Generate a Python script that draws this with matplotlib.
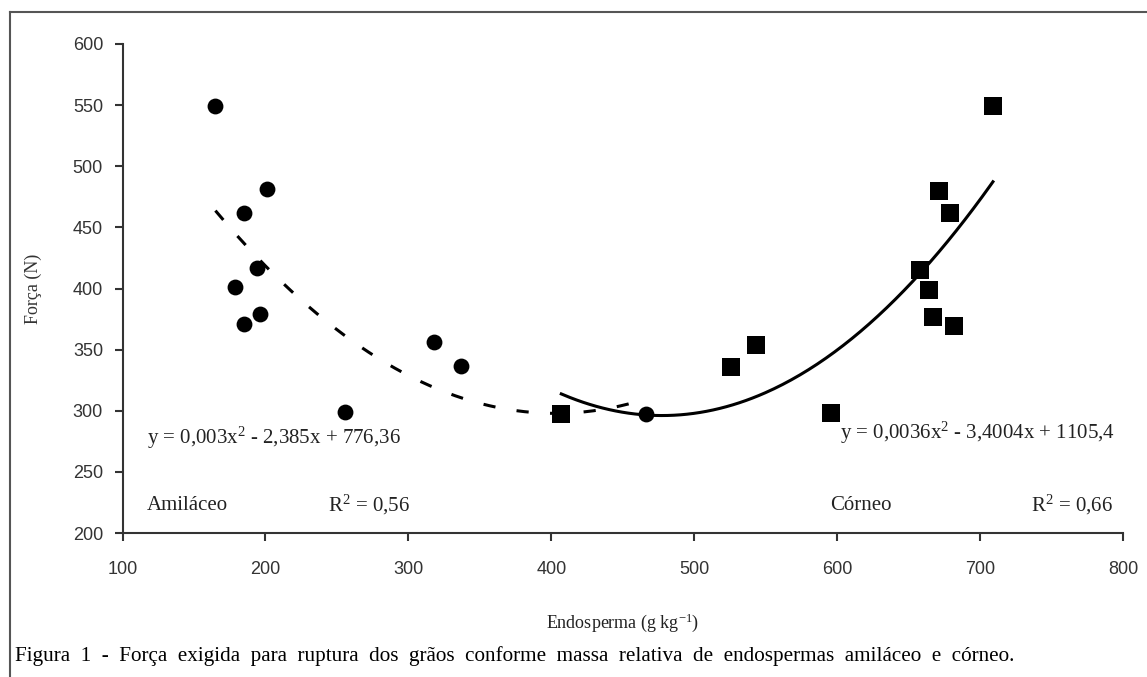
import numpy as np
import matplotlib
matplotlib.use('Agg')
import matplotlib.pyplot as plt
from matplotlib.lines import Line2D

plt.rcParams['mathtext.fontset'] = 'custom'
plt.rcParams['mathtext.rm'] = 'Liberation Serif'
plt.rcParams['mathtext.it'] = 'Liberation Serif:italic'

# --- data
amil_x = [165, 179, 185, 185, 194, 196, 201, 256, 318, 337, 466]   # endosperma amiláceo (g/kg)
amil_y = [549, 401, 462, 371, 417, 379, 481, 299, 356, 337, 297]   # força (N)

corn_x = [407, 526, 543, 596, 658, 664, 667, 671, 679, 682, 709]   # endosperma córneo (g/kg)
corn_y = [297, 336, 354, 298, 415, 399, 377, 480, 462, 369, 549]

xticks = [100, 200, 300, 400, 500, 600, 700, 800]
yticks = [200, 250, 300, 350, 400, 450, 500, 550, 600]

eq_amil = 'y = 0,003x$^{2}$ - 2,385x + 776,36'
eq_corn = 'y = 0,0036x$^{2}$ - 3,4004x + 1105,4'
r2_amil = 'R$^{2}$ = 0,56'
r2_corn = 'R$^{2}$ = 0,66'
caption = ('Figura  1  -  Força  exigida  para  ruptura  dos  grãos  conforme  massa  '
           'relativa  de  endospermas  amiláceo  e  córneo.')

# --- figure
W, H = 1147, 677
fig = plt.figure(figsize=(W / 100, H / 100), dpi=100)
ax = fig.add_axes((122.5 / W, 1 - 533 / H, (1123 - 122.5) / W, (533 - 44) / H))

ax.scatter(amil_x, amil_y, s=130, marker='o', color='black', zorder=3, linewidths=0)
ax.scatter(corn_x, corn_y, s=150, marker='s', color='black', zorder=3, linewidths=0)

# quadratic trend lines fitted to each group
pa = np.polyfit(amil_x, amil_y, 2)
xa = np.linspace(min(amil_x), max(amil_x), 200)
ax.plot(xa, np.polyval(pa, xa), color='black', lw=2.2, dashes=(4, 7), zorder=2)

pc = np.polyfit(corn_x, corn_y, 2)
xc = np.linspace(min(corn_x), max(corn_x), 200)
ax.plot(xc, np.polyval(pc, xc), color='black', lw=2.2, zorder=2)

ax.set_xlim(100, 800)
ax.set_ylim(200, 600)
ax.set_xticks(xticks)
ax.set_yticks(yticks)
for s in ['top', 'right']:
    ax.spines[s].set_visible(False)
for s in ['left', 'bottom']:
    ax.spines[s].set_linewidth(1.5)
    ax.spines[s].set_color('#333333')
ax.tick_params(direction='out', length=6, width=1.5, color='#333333',
               labelsize=13, labelcolor='#333333')
ax.tick_params(axis='x', pad=14)
ax.tick_params(axis='y', pad=8)
for lab in ax.get_xticklabels() + ax.get_yticklabels():
    lab.set_family('Liberation Sans')

ax.set_ylabel('Força (N)', family='Liberation Serif', fontsize=13, color='#333333', labelpad=22)
ax.set_xlabel('Endosperma (g kg$^{\\mathrm{-1}}$)', family='Liberation Serif', fontsize=13,
              color='#222222', labelpad=24)

# --- annotations placed in figure pixels
def ftext(x, y, s, **kw):
    fig.text(x / W, 1 - y / H, s, family='Liberation Serif', fontsize=15,
             color='#222222', va='center', **kw)

ftext(147, 438, eq_amil)
ftext(147, 505, 'Amiláceo')
ftext(328, 505, r2_amil)
ftext(1115, 433, eq_corn, ha='right')
ftext(830, 505, 'Córneo')
ftext(1113, 505, r2_corn, ha='right')

fig.text(15 / W, 1 - 656 / H, caption, family='Liberation Serif', fontsize=15.2,
         color='black', va='center')

# --- page frame (left and top edges)
fig.add_artist(Line2D([10 / W, 10 / W], [0, 1 - 12 / H], color='#555555', lw=1.5))
fig.add_artist(Line2D([10 / W, 1], [1 - 12 / H, 1 - 12 / H], color='#555555', lw=1.5))

fig.savefig('out.png', dpi=100)
